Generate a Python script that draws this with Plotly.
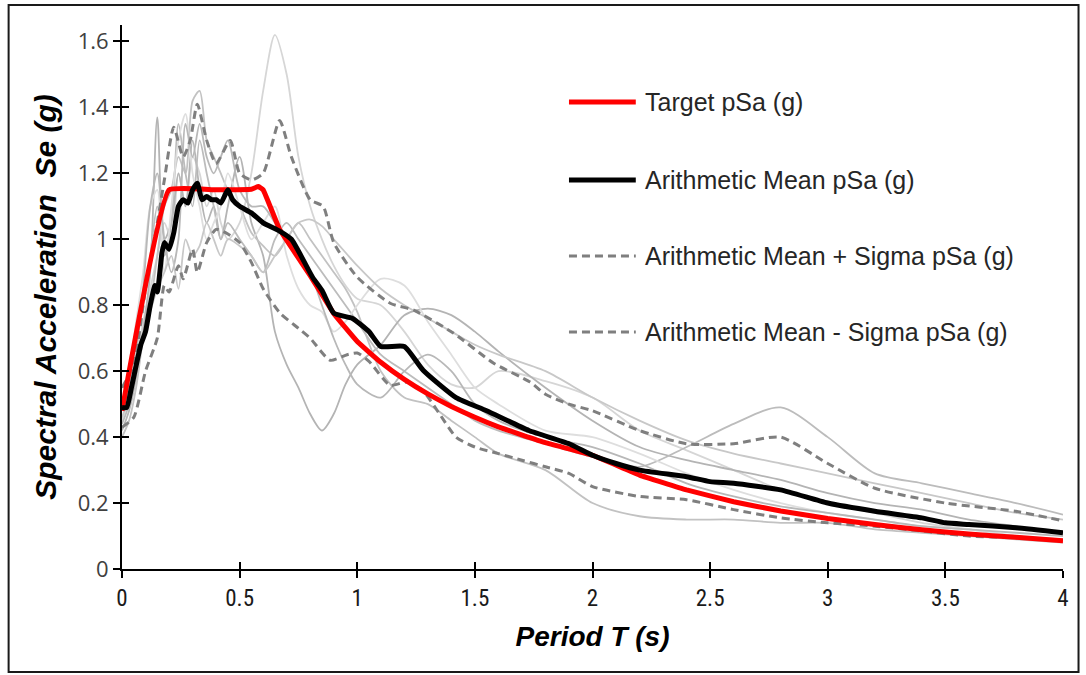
import plotly.graph_objects as go

# Period grid shared by the individual ground-motion records (s)
T_REC = [0, 0.03, 0.06, 0.09, 0.12, 0.15, 0.18, 0.21, 0.24, 0.27, 0.30, 0.33, 0.36, 0.39, 0.42, 0.45,
         0.50, 0.55, 0.60, 0.65, 0.70, 0.75, 0.80, 0.85, 0.90, 0.95, 1.00,
         1.10, 1.20, 1.30, 1.40, 1.50, 1.60,
         1.80, 2.00, 2.20, 2.40, 2.60, 2.80, 3.00, 3.20, 3.40, 3.60, 3.80, 4.00]

# Individual record spectra pSa (g)
REC_A = [0.45, 0.52, 0.62, 0.75, 0.85, 0.95, 1.05, 1.00, 1.20, 1.10, 1.25, 1.20, 1.10, 1.15, 1.05, 1.00,
         1.05, 1.20, 1.45, 1.62, 1.50, 1.25, 1.10, 1.00, 0.92, 0.86, 0.82,
         0.80, 0.72, 0.62, 0.56, 0.55, 0.60,
         0.57, 0.52, 0.42, 0.36, 0.30, 0.24, 0.20, 0.17, 0.14, 0.12, 0.10, 0.09]
REC_B = [0.42, 0.48, 0.58, 0.72, 0.90, 1.37, 1.00, 1.05, 1.20, 1.10, 1.30, 1.15, 1.05, 1.10, 1.00, 1.10,
         1.25, 1.05, 0.95, 0.72, 0.62, 0.55, 0.47, 0.42, 0.47, 0.56, 0.62,
         0.68, 0.77, 0.79, 0.77, 0.72, 0.66,
         0.55, 0.45, 0.37, 0.33, 0.30, 0.27, 0.23, 0.20, 0.18, 0.15, 0.13, 0.11]
REC_C = [0.40, 0.45, 0.55, 0.70, 0.80, 0.95, 1.10, 1.15, 1.25, 1.20, 1.42, 1.45, 1.30, 1.25, 1.20, 1.15,
         1.10, 1.02, 0.98, 0.95, 1.00, 1.05, 1.00, 0.95, 0.90, 0.85, 0.78,
         0.60, 0.52, 0.50, 0.45, 0.40, 0.35,
         0.30, 0.20, 0.16, 0.15, 0.15, 0.14, 0.14, 0.12, 0.11, 0.10, 0.09, 0.08]
REC_D = [0.48, 0.55, 0.70, 0.80, 0.95, 1.10, 0.95, 1.05, 1.35, 1.20, 1.10, 1.30, 1.20, 1.10, 1.00, 1.05,
         1.00, 0.95, 0.90, 1.00, 1.05, 1.00, 0.95, 0.90, 0.85, 0.80, 0.75,
         0.65, 0.60, 0.55, 0.50, 0.45, 0.42,
         0.38, 0.34, 0.31, 0.37, 0.44, 0.49, 0.40, 0.29, 0.26, 0.23, 0.20, 0.165]
REC_E = [0.50, 0.60, 0.75, 0.90, 1.10, 1.15, 0.90, 1.10, 1.30, 1.38, 1.20, 1.10, 1.00, 1.05, 1.10, 1.20,
         1.10, 1.00, 1.05, 1.10, 0.95, 0.85, 0.80, 0.78, 0.72, 0.75, 0.80,
         0.88, 0.86, 0.75, 0.65, 0.55, 0.50,
         0.42, 0.40, 0.35, 0.29, 0.24, 0.20, 0.17, 0.15, 0.13, 0.12, 0.10, 0.09]
REC_F = [0.44, 0.50, 0.65, 0.85, 1.10, 1.20, 1.00, 0.90, 1.00, 1.35, 1.25, 1.35, 1.25, 1.20, 1.25, 1.30,
         1.15, 1.10, 1.10, 1.05, 1.00, 0.96, 0.90, 0.80, 0.70, 0.62, 0.56,
         0.52, 0.60, 0.65, 0.60, 0.50, 0.45,
         0.40, 0.37, 0.32, 0.26, 0.22, 0.19, 0.17, 0.15, 0.13, 0.12, 0.11, 0.10]
REC_G = [0.46, 0.52, 0.60, 0.70, 0.78, 0.85, 0.90, 0.95, 0.85, 1.00, 0.95, 0.98, 1.05, 1.00, 0.95, 1.00,
         0.98, 0.95, 0.90, 0.95, 1.00, 1.05, 1.06, 1.04, 1.00, 0.96, 0.92,
         0.85, 0.80, 0.76, 0.72, 0.68, 0.65,
         0.60, 0.52, 0.45, 0.39, 0.35, 0.32, 0.29, 0.26, 0.23, 0.20, 0.17, 0.15]

RECORDS = [REC_A, REC_B, REC_C, REC_D, REC_E, REC_F, REC_G]
REC_COLORS = ["#d6d6d6", "#b4b4b4", "#c2c2c2", "#bcbcbc", "#dedede", "#b8b8b8", "#c8c8c8"]

# Target design spectrum
T_TARGET = [0, 0.20, 0.40, 0.55, 0.58, 0.60, 0.67, 0.80, 0.90, 1.00, 1.10, 1.20, 1.30, 1.40, 1.50, 1.60,
            1.80, 2.00, 2.20, 2.40, 2.60, 2.80, 3.00, 3.20, 3.40, 3.60, 3.80, 4.00]
SA_TARGET = [0.48, 1.15, 1.15, 1.152, 1.16, 1.15, 1.03, 0.89, 0.775, 0.69, 0.627, 0.575, 0.531, 0.493, 0.46, 0.431,
             0.383, 0.345, 0.285, 0.24, 0.204, 0.176, 0.153, 0.135, 0.119, 0.106, 0.096, 0.086]

# Arithmetic mean of the record set
T_MEAN = [0, 0.02, 0.04, 0.08, 0.10, 0.12, 0.14, 0.15, 0.17, 0.18, 0.20, 0.22, 0.24, 0.26, 0.28, 0.30,
          0.32, 0.34, 0.36, 0.38, 0.40, 0.42, 0.45, 0.47, 0.50, 0.55, 0.60, 0.67, 0.72, 0.81, 0.85,
          0.90, 0.98, 1.05, 1.10, 1.20, 1.28, 1.42, 1.55, 1.73, 1.90, 2.00, 2.10, 2.20, 2.40, 2.50,
          2.60, 2.80, 3.00, 3.20, 3.40, 3.50, 3.60, 3.80, 4.00]
SA_MEAN = [0.49, 0.49, 0.55, 0.68, 0.72, 0.80, 0.86, 0.84, 0.96, 0.99, 0.97, 1.02, 1.10, 1.12, 1.11, 1.15,
           1.17, 1.12, 1.13, 1.12, 1.12, 1.11, 1.15, 1.12, 1.10, 1.08, 1.05, 1.025, 1.00, 0.885, 0.845,
           0.776, 0.76, 0.72, 0.675, 0.675, 0.603, 0.52, 0.48, 0.42, 0.38, 0.345, 0.32, 0.30, 0.28, 0.265,
           0.26, 0.24, 0.20, 0.175, 0.155, 0.14, 0.135, 0.125, 0.11]

# Mean plus one standard deviation
T_PLUS = [0, 0.05, 0.10, 0.15, 0.18, 0.22, 0.26, 0.29, 0.32, 0.36, 0.40, 0.46, 0.50, 0.55, 0.60, 0.67,
          0.72, 0.80, 0.855, 0.90, 1.00, 1.14, 1.24, 1.41, 1.58, 1.735, 1.80, 1.90, 2.00, 2.20, 2.40,
          2.60, 2.80, 3.00, 3.20, 3.50, 3.80, 4.00]
SA_PLUS = [0.55, 0.62, 0.85, 1.05, 1.18, 1.34, 1.25, 1.30, 1.41, 1.30, 1.23, 1.30, 1.20, 1.18, 1.20, 1.36,
           1.25, 1.12, 1.10, 0.99, 0.885, 0.806, 0.785, 0.715, 0.624, 0.567, 0.53, 0.50, 0.48, 0.42, 0.38,
           0.38, 0.40, 0.32, 0.245, 0.20, 0.175, 0.146]

# Mean minus one standard deviation
T_MINUS = [0, 0.05, 0.10, 0.15, 0.18, 0.20, 0.24, 0.26, 0.30, 0.32, 0.36, 0.40, 0.44, 0.50, 0.55, 0.60,
           0.672, 0.75, 0.80, 0.885, 0.957, 1.00, 1.05, 1.14, 1.21, 1.28, 1.35, 1.42, 1.50, 1.60, 1.70,
           1.80, 1.90, 2.00, 2.20, 2.40, 2.60, 2.80, 3.00, 3.20, 3.40, 3.60, 3.80, 4.00]
SA_MINUS = [0.43, 0.46, 0.60, 0.70, 0.86, 0.84, 0.92, 0.88, 0.97, 0.90, 0.99, 1.03, 1.02, 0.99, 0.93, 0.85,
            0.776, 0.73, 0.70, 0.633, 0.65, 0.655, 0.63, 0.557, 0.567, 0.54, 0.47, 0.40, 0.37, 0.35, 0.33,
            0.31, 0.29, 0.25, 0.22, 0.21, 0.18, 0.155, 0.14, 0.13, 0.115, 0.10, 0.095, 0.085]

LEGEND_LABELS = ["Target pSa (g)", "Arithmetic Mean pSa (g)",
                 "Arithmetic Mean + Sigma pSa (g)", "Arithmetic Mean - Sigma pSa (g)"]

X_TICKS = [0, 0.5, 1, 1.5, 2, 2.5, 3, 3.5, 4]
X_TICKTEXT = ["0", "0.5", "1", "1.5", "2", "2.5", "3", "3.5", "4"]
Y_TICKS = [0, 0.2, 0.4, 0.6, 0.8, 1.0, 1.2, 1.4, 1.6]
Y_TICKTEXT = ["0", "0.2", "0.4", "0.6", "0.8", "1", "1.2", "1.4", "1.6"]

RED = "#ff0000"
DASH_GREY = "#7f7f7f"
DASH = "8px,5px"

fig = go.Figure()

for rec, col in zip(RECORDS, REC_COLORS):
    fig.add_trace(go.Scatter(x=T_REC, y=rec, mode="lines",
                             line=dict(color=col, width=1.8, shape="spline", smoothing=0.8),
                             showlegend=False, hoverinfo="skip"))

fig.add_trace(go.Scatter(x=T_PLUS, y=SA_PLUS, mode="lines",
                         line=dict(color=DASH_GREY, width=3, dash=DASH, shape="spline", smoothing=0.6),
                         showlegend=False))
fig.add_trace(go.Scatter(x=T_MINUS, y=SA_MINUS, mode="lines",
                         line=dict(color=DASH_GREY, width=3, dash=DASH, shape="spline", smoothing=0.6),
                         showlegend=False))
fig.add_trace(go.Scatter(x=T_TARGET, y=SA_TARGET, mode="lines",
                         line=dict(color=RED, width=5, shape="spline", smoothing=0.3),
                         showlegend=False))
fig.add_trace(go.Scatter(x=T_MEAN, y=SA_MEAN, mode="lines",
                         line=dict(color="#000000", width=5, shape="spline", smoothing=0.5),
                         showlegend=False))

# invisible trace so the overlay axes (inner half of crossing ticks) are drawn
fig.add_trace(go.Scatter(x=[0, 4], y=[0, 0], xaxis="x2", yaxis="y2", mode="lines",
                         line=dict(width=0), showlegend=False, hoverinfo="skip"))

# legend drawn as line samples and labels inside the plot area
legend_styles = [dict(color=RED, width=5), dict(color="#000000", width=5),
                 dict(color=DASH_GREY, width=3, dash=DASH), dict(color=DASH_GREY, width=3, dash=DASH)]
legend_y = [0.8585, 0.715, 0.5754, 0.4357]
for lab, sty, ly in zip(LEGEND_LABELS, legend_styles, legend_y):
    fig.add_shape(type="line", xref="paper", yref="paper", x0=0.475, x1=0.546, y0=ly, y1=ly, line=sty)
    fig.add_annotation(xref="paper", yref="paper", x=0.5537, y=ly, text=lab, showarrow=False,
                       xanchor="left", yanchor="middle",
                       font=dict(family="Arial, Liberation Sans, sans-serif", size=25, color="#262626"))

# outer frame around the whole chart
fig.add_shape(type="rect", xref="paper", yref="paper", x0=-0.1205, x1=1.0165, y0=-0.1893, y1=1.0368,
              line=dict(color="#1a1a1a", width=2), layer="below")

fig.update_layout(
    width=1086, height=675,
    margin=dict(l=122, r=23, t=25, b=106),
    paper_bgcolor="white", plot_bgcolor="white",
    showlegend=False,
    xaxis=dict(range=[0, 4], tickvals=X_TICKS, ticktext=X_TICKTEXT,
               ticks="outside", ticklen=7, tickwidth=2, tickcolor="#000000",
               showline=True, linecolor="#000000", linewidth=2, showgrid=False, zeroline=False,
               tickfont=dict(family="Liberation Sans Narrow, Roboto Condensed, Arial Narrow, sans-serif",
                             size=23, color="#1a1a1a"),
               title=dict(text="<b><i>Period T (s)</i></b>",
                          font=dict(family="Arial, Liberation Sans, sans-serif", size=28, color="#000000"),
                          standoff=16)),
    yaxis=dict(range=[0, 1.65], tickvals=Y_TICKS, ticktext=Y_TICKTEXT,
               ticks="outside", ticklen=7, tickwidth=2, tickcolor="#000000",
               showline=True, linecolor="#000000", linewidth=2, showgrid=False, zeroline=False,
               tickfont=dict(family="Open Sans, Lato, sans-serif", size=22, color="#404040"),
               title=dict(text="<b><i>Spectral Acceleration  Se (g)</i></b>",
                          font=dict(family="Arial, Liberation Sans, sans-serif", size=30, color="#000000"),
                          standoff=12)),
    xaxis2=dict(range=[0, 4], overlaying="x", anchor="y2", tickvals=X_TICKS,
                ticks="inside", ticklen=7, tickwidth=2, tickcolor="#000000",
                showticklabels=False, showline=False, showgrid=False, zeroline=False),
    yaxis2=dict(range=[0, 1.65], overlaying="y", anchor="x2", tickvals=Y_TICKS,
                ticks="inside", ticklen=7, tickwidth=2, tickcolor="#000000",
                showticklabels=False, showline=False, showgrid=False, zeroline=False),
)

fig.write_html("out.html")
